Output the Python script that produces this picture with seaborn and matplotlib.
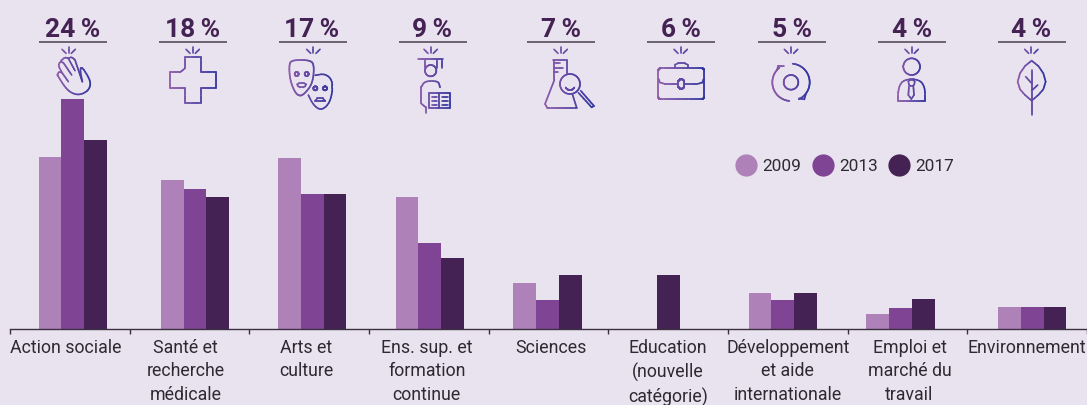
import numpy as np
import pandas as pd
import seaborn as sns
import matplotlib.pyplot as plt
from matplotlib.collections import LineCollection
from matplotlib.colors import to_rgb
from matplotlib.lines import Line2D
from matplotlib.transforms import ScaledTranslation

# donnees
categories = ["Action sociale", "Santé et\nrecherche\nmédicale", "Arts et\nculture",
              "Ens. sup. et\nformation\ncontinue", "Sciences", "Education\n(nouvelle\ncatégorie)",
              "Développement\net aide\ninternationale", "Emploi et\nmarché du\ntravail", "Environnement"]
v2009 = [22.0, 19.0, 21.8, 16.9, 5.8, np.nan, 4.6, 1.8, 2.7]
v2013 = [29.4, 17.9, 17.2, 10.9, 3.6, np.nan, 3.6, 2.6, 2.7]
v2017 = [24.2, 16.9, 17.2, 9.0, 6.8, 6.8, 4.6, 3.8, 2.7]
parts = ["24 %", "18 %", "17 %", "9 %", "7 %", "6 %", "5 %", "4 %", "4 %"]
annees = ["2009", "2013", "2017"]
couleurs = ["#AE82B9", "#7F4493", "#452254"]

FOND = "#E9E3EF"
W, H = 1087, 405

sns.set_theme(style="white")
plt.rcParams["font.family"] = ["Roboto", "DejaVu Sans"]

df = pd.DataFrame({"categorie": categories * 3,
                   "annee": np.repeat(annees, len(categories)),
                   "valeur": v2009 + v2013 + v2017})

fig = plt.figure(figsize=(W / 100, H / 100), dpi=100, facecolor=FOND)
ax = fig.add_axes([10 / W, (H - 328.5) / H, 1077 / W, 238.5 / H], facecolor="none")
sns.barplot(data=df, x="categorie", y="valeur", hue="annee", order=categories, hue_order=annees,
            palette=couleurs, width=0.57, gap=0, saturation=1, linewidth=0, legend=False, ax=ax)
ax.set_xlim(-0.5, 8.5)
ax.set_ylim(0, 238.5 / 7.8)
ax.set_xlabel("")
ax.set_ylabel("")
ax.set_yticks([])
sns.despine(ax=ax, left=True)
ax.spines["bottom"].set_color("#3a3040")
ax.spines["bottom"].set_linewidth(1.0)

# groupes pas tout a fait centres dans l'original (en px)
decal_groupes = [3, 5.5, 3, 1, -1, 0, -5, -7, 5]
for cont in ax.containers:
    for p in cont.patches:
        # les NaN n'ont pas de barre, on retrouve le groupe par la position
        i = int(round(p.get_x() + p.get_width() / 2))
        p.set_x(p.get_x() + decal_groupes[i] / (1077 / 9))
# la barre seule d'Education est au milieu du groupe
for p in ax.containers[2].patches:
    if int(round(p.get_x() + p.get_width() / 2)) == 5:
        p.set_x(p.get_x() - p.get_width())

ax.set_xticks(np.arange(-0.5, 9, 1), minor=True)
ax.tick_params(axis="x", which="minor", length=3.6, width=1.0, color="#3a3040", bottom=True)
ax.tick_params(axis="x", which="major", length=0, pad=7.5, labelsize=12.8, labelcolor="#2e2a33")
decal_labels = [-4, -4, -3, -2, 2, 0, 0, 2, 0]
for lab, d in zip(ax.get_xticklabels(), decal_labels):
    lab.set_linespacing(1.39)
    lab.set_transform(lab.get_transform() + ScaledTranslation(d / 100, 0, fig.dpi_scale_trans))

# legende
poignees = [Line2D([], [], ls="", marker="o", ms=16, mew=0, color=c) for c in couleurs]
fig.legend(poignees, annees, ncol=3, frameon=False, fontsize=12.4, labelcolor="#2e2a33",
           loc="center left", bbox_to_anchor=(733 / W, 1 - 166.5 / H), handletextpad=0.2,
           columnspacing=0.5, handlelength=1.5, borderpad=0, borderaxespad=0)

# couche en pixels pour les parts et les pictos
top = fig.add_axes([0, 0, 1, 1], facecolor="none")
top.set_xlim(0, W)
top.set_ylim(H, 0)
top.axis("off")

centres_txt = [73, 192.5, 312, 432.5, 561, 681, 791.7, 911.7, 1031]
debut_traits = [39, 159, 279, 399, 527, 647, 758, 878, 998]
for cx, x0, t in zip(centres_txt, debut_traits, parts):
    top.text(cx, 37, t.replace(" ", "\u2009"), ha="center", va="baseline", fontsize=19,
             fontweight="bold", color="#452254")
    top.plot([x0, x0 + 68], [42, 42], color="#4a4050", lw=1.1, solid_capstyle="butt")


def lisse(pts, ferme=False, n=3):
    pts = np.array(pts, float)
    for _ in range(n):
        if ferme:
            suiv = np.roll(pts, -1, axis=0)
        else:
            suiv = pts[1:]
            pts = pts[:-1]
        q = 0.75 * pts + 0.25 * suiv
        r = 0.25 * pts + 0.75 * suiv
        mil = np.empty((len(q) * 2, 2))
        mil[0::2] = q
        mil[1::2] = r
        if not ferme:
            mil = np.vstack([pts[0], mil, suiv[-1]])
        pts = mil
    if ferme:
        pts = np.vstack([pts, pts[0]])
    return pts


def arc(cx, cy, r, a0=0, a1=360):
    t = np.radians(np.linspace(a0, a1, 60))
    return np.c_[cx + r * np.cos(t), cy + r * np.sin(t)]


def rect_rond(x0, y0, x1, y1, r):
    return np.vstack([arc(x1 - r, y0 + r, r, -90, 0), arc(x1 - r, y1 - r, r, 0, 90),
                      arc(x0 + r, y1 - r, r, 90, 180), arc(x0 + r, y0 + r, r, 180, 270),
                      [[x1 - r, y0]]])


def picto(ox, traits, cx_eclat):
    # coordonnees du zoom x3, degrade violet -> bleu selon x
    traits = [np.array(t, float) for t in traits]
    traits += [np.array([[cx_eclat, 141], [cx_eclat, 158]], float),
               np.array([[cx_eclat - 20, 148], [cx_eclat - 8, 160]], float),
               np.array([[cx_eclat + 20, 148], [cx_eclat + 8, 160]], float)]
    tous = np.vstack(traits)
    xmin, xmax = tous[:, 0].min(), tous[:, 0].max()
    a, b = np.array(to_rgb("#8F5CAA")), np.array(to_rgb("#3236A0"))
    segs, cols = [], []
    for t in traits:
        # redecoupe les longs segments pour le degrade
        fin = [t[0]]
        for p, q in zip(t[:-1], t[1:]):
            k = max(1, int(np.hypot(*(q - p)) / 6))
            for j in range(1, k + 1):
                fin.append(p + (q - p) * j / k)
        fin = np.array(fin)
        for p, q in zip(fin[:-1], fin[1:]):
            segs.append([(ox + p[0] / 3, p[1] / 3), (ox + q[0] / 3, q[1] / 3)])
            f = ((p[0] + q[0]) / 2 - xmin) / (xmax - xmin)
            cols.append(a + (b - a) * f)
    top.add_collection(LineCollection(segs, colors=cols, linewidths=1.2, capstyle="round"))


# main
picto(0, [lisse([(247, 245), (240, 210), (245, 200), (262, 225), (273, 250), (265, 272), (240, 285),
                 (215, 280), (195, 262), (172, 225)], n=2),
          lisse([(172, 225), (177, 215), (186, 218)], n=1), [(186, 218), (205, 245)],
          lisse([(186, 218), (175, 197), (180, 185), (190, 188)], n=1), [(190, 188), (215, 225)],
          lisse([(183, 182), (195, 172), (205, 175)], n=1), [(205, 175), (225, 212)],
          lisse([(205, 175), (215, 171), (225, 180)], n=1), [(225, 180), (247, 245)]], 206)
# croix
picto(0, [[(555, 172), (602, 172), (602, 217), (647, 217), (647, 264), (602, 264), (602, 309),
           (555, 309), (555, 264), (509, 264), (509, 217), (540, 217), (555, 205), (555, 172)]], 578)
# masques
picto(0, [lisse([(867, 195), (875, 180), (930, 180), (943, 195), (938, 250), (915, 280), (900, 289),
                 (885, 278), (870, 240)], True),
          arc(890, 222, 6), arc(920, 222, 6),
          lisse([(890, 250), (920, 250), (914, 262), (896, 262)], True, 1),
          lisse([(945, 226), (975, 221), (997, 240), (997, 280), (985, 315), (962, 331), (940, 315),
                 (925, 285)], n=2),
          arc(946, 265, 6), arc(975, 265, 6),
          [(945, 303), (952, 295), (968, 295), (976, 303), (945, 303)]], 940)
# diplome
picto(370, [[(145, 178), (218, 178)], [(165, 180), (165, 205)], [(200, 180), (200, 205)],
            [(215, 180), (215, 205)], arc(182, 212, 17),
            lisse([(210, 262), (205, 243), (165, 243), (153, 262)], n=2),
            [(153, 262), (153, 310), (167, 322), (167, 338)],
            [(178, 280), (240, 280), (240, 323), (178, 323), (178, 280)], [(208, 280), (208, 323)],
            [(186, 290), (202, 290)], [(186, 302), (202, 302)], [(186, 314), (202, 314)],
            [(216, 290), (234, 290)], [(216, 302), (234, 302)], [(216, 314), (234, 314)]], 182)
# fiole et loupe
picto(370, [[(550, 180), (590, 180)], [(590, 180), (590, 222)],
            [(553, 180), (553, 240), (525, 312), (532, 323), (620, 323), (607, 282)],
            [(553, 190), (570, 190)], [(553, 203), (578, 203)], [(553, 216), (565, 216)],
            arc(600, 252, 30), arc(600, 255, 15, 30, 150),
            [(625, 278), (665, 322), (672, 318), (632, 272)]], 572)
# mallette
picto(370, [rect_rond(865, 205, 1002, 297, 6),
            lisse([(915, 205), (915, 190), (953, 190), (953, 205)], n=1),
            lisse([(865, 235), (872, 252), (925, 252)], n=1), lisse([(942, 252), (995, 252), (1002, 235)], n=1),
            rect_rond(925, 238, 942, 266, 7)], 932)
# cycle
picto(720, [arc(213, 247, 22), arc(213, 247, 56, -85, 65), arc(213, 247, 56, 95, 232),
            [(237, 295), (253, 298), (258, 280)], [(170, 212), (175, 197), (191, 197)]], 213)
# personne
picto(720, [arc(575, 200, 25),
            lisse([(535, 302), (535, 262), (552, 238), (598, 238), (615, 262), (615, 302)], n=2),
            [(535, 302), (615, 302)],
            lisse([(564, 240), (585, 240), (582, 258), (568, 258)], True, 1),
            [(567, 258), (565, 285), (574, 297), (582, 285), (580, 258)]], 575)
# feuille
picto(720, [[(935, 182), (955, 198), (970, 220), (977, 245), (970, 268), (955, 285), (935, 302),
             (915, 285), (900, 268), (893, 245), (900, 220), (915, 198), (935, 182)],
            [(935, 210), (935, 345)], [(917, 230), (935, 250)], [(953, 255), (935, 272)]], 934)

fig.savefig("out.png", dpi=100, facecolor=FOND)
